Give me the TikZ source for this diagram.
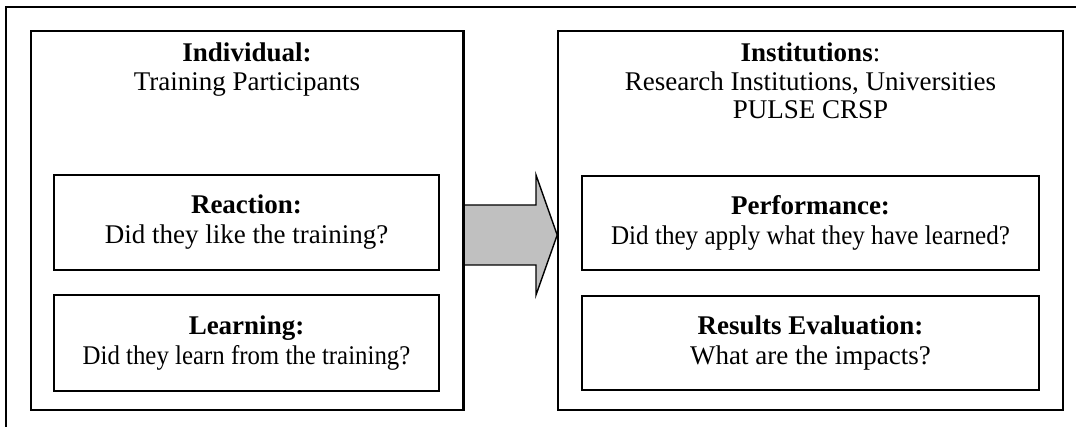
\documentclass[tikz,border=0pt]{standalone}
\usepackage{fontspec}
\setmainfont{Liberation Serif}
\newcommand{\squeeze}[2]{\scalebox{#1}[1]{#2}}
\begin{document}
\begin{tikzpicture}[x=1pt,y=-1pt,
  frame/.style={draw=black,line width=1.6pt},
  bigbox/.style={frame,rectangle,inner sep=0pt,minimum height=379pt},
  qbox/.style={frame,rectangle,inner sep=0pt,align=center,font=\fontsize{27}{30}\selectfont},
  title/.style={align=center,inner sep=0pt,font=\fontsize{27}{28.5}\selectfont},
  bigarrow/.style={draw=black,line width=1.4pt,fill=arrowgray,line join=miter}
]
\definecolor{arrowgray}{RGB}{192,192,192}
\useasboundingbox (0,0) rectangle (1076,427);
% outer frame (only top and left edges visible)
\draw[line width=1.6pt] (1076,7) -- (6,7) -- (6,427);
% big boxes
\node[bigbox,minimum width=432pt] (L) at (247,220.5) {};
\node[bigbox,minimum width=505pt] (R) at (810.5,220.5) {};
% titles
\node[title,anchor=north] (Lt) at (247,43) {\textbf{Individual:}\\Training Participants};
\node[title,anchor=north] (Rt) at (810.5,43) {\textbf{Institutions}:\\Research Institutions, Universities\\PULSE CRSP};
% inner boxes
\node[qbox,minimum width=385pt,minimum height=95pt] (react) at (246.5,222.5) {\textbf{Reaction:}\\Did they like the training?};
\node[qbox,minimum width=385pt,minimum height=96pt] (learn) at (246.5,343) {\textbf{Learning:}\\\squeeze{0.92}{Did they learn from the training?}};
\node[qbox,minimum width=457pt,minimum height=94pt] (perf) at (810.5,223) {\textbf{Performance:}\\\squeeze{0.93}{Did they apply what they have learned?}};
\node[qbox,minimum width=457pt,minimum height=94pt] (res) at (810.5,343) {\textbf{Results Evaluation:}\\What are the impacts?};
% big arrow from left box to right box
\coordinate (a0) at (L.east |- 0,205);
\coordinate (a1) at (L.east |- 0,265);
\coordinate (tip) at (R.west |- 0,235);
\draw[bigarrow] (a0) -- (536,205) -- (536,175) -- (tip) -- (536,295) -- (536,265) -- (a1) -- cycle;
\draw[line width=1.6pt] (L.north east) -- (L.south east);
\end{tikzpicture}
\end{document}
